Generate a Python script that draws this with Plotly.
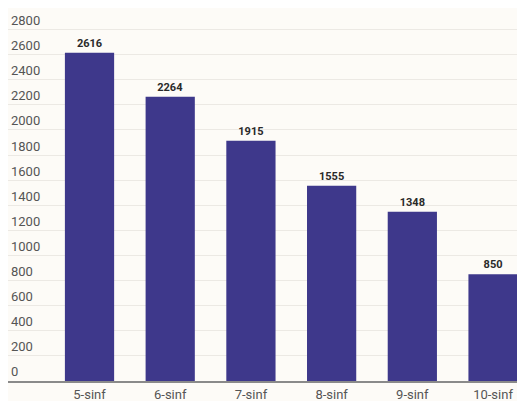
import plotly.graph_objects as go

categories = ["5-sinf", "6-sinf", "7-sinf", "8-sinf", "9-sinf", "10-sinf"]
values = [2616, 2264, 1915, 1555, 1348, 850]
y_ticks = list(range(0, 2801, 200))

fig = go.Figure(go.Bar(
    x=categories, y=values,
    marker=dict(color="#3e388b", line=dict(width=0)),
    width=0.61,
    text=[str(v) for v in values],
    textposition="outside",
    textfont=dict(family="Roboto", size=11, color="#2a2a2a", weight="bold"),
    cliponaxis=False,
))

fig.update_layout(
    width=517, height=393,
    margin=dict(l=0, r=0, t=0, b=20),
    paper_bgcolor="#fdfbf7", plot_bgcolor="#fdfbf7",
    showlegend=False,
    font=dict(family="Roboto", color="#555555"),
    xaxis=dict(
        type="category", range=[-1.01, 5.396],
        showgrid=False, showline=True, linecolor="#8a8a8a", linewidth=2,
        ticks="", tickfont=dict(size=13, color="#555555"),
    ),
    yaxis=dict(
        range=[0, 2972], tickvals=y_ticks,
        ticklabelposition="inside top",
        showgrid=True, gridcolor="#ece9e4", gridwidth=1,
        zeroline=False, showline=False, ticks="",
        tickfont=dict(size=13, color="#555555"),
    ),
)

fig.write_html("out.html")
